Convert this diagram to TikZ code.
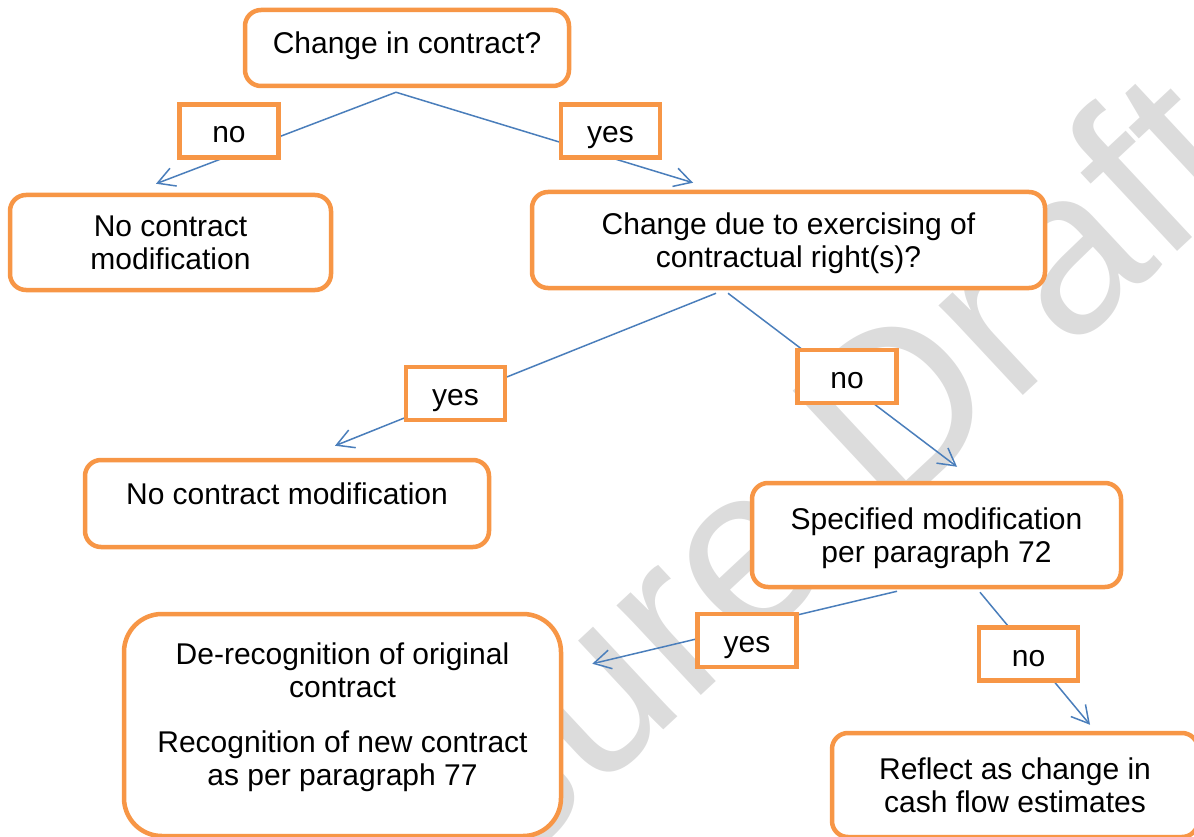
\documentclass[tikz,border=0pt]{standalone}
\usepackage{xcolor}
\usepackage{fontspec}
\setmainfont{Liberation Sans}
\usetikzlibrary{arrows.meta}

\definecolor{boxorange}{HTML}{F79646}
\definecolor{linkblue}{HTML}{4A7EBB}
\definecolor{wmgray}{HTML}{DCDCDC}

\begin{document}
\begin{tikzpicture}[x = 1pt, y = -1pt,
    box/.style = {draw = boxorange, line width = 4.5pt, rounded corners = 16pt, fill = white,
        align = center, inner sep = 0pt, text depth = 0pt,
        font = \fontsize{30}{33}\selectfont},
    answer/.style = {draw = boxorange, line width = 4.5pt, fill = white, inner sep = 0pt,
        minimum width = 99pt, minimum height = 53pt, text height = 24pt, text depth = 0pt,
        font = \fontsize{30}{33}\selectfont},
    link/.style = {draw = linkblue, line width = 1.5pt,
        -{Straight Barb[length = 17pt, width = 19pt]}}]
    \useasboundingbox (0, 0) rectangle (1194, 837);
    \clip (0, 0) rectangle (1194, 837);

    % watermark
    \node[rotate = 43, text = wmgray, font = \fontsize{233}{233}\selectfont] (wm) at (648.5, 662.5) {Exposure Draft};

    % decisions and outcomes
    \node[box, minimum width = 324pt, minimum height = 76pt, text depth = 11pt] (change) at (407, 48) {Change in contract?};
    \node[box, minimum width = 321pt, minimum height = 95pt] (nomod) at (170.5, 242.5) {No contract\\modification};
    \node[box, minimum width = 513pt, minimum height = 96pt] (right) at (788.5, 240) {Change due to exercising of\\contractual right(s)?};
    \node[box, minimum width = 404pt, minimum height = 87pt, text depth = 19.5pt] (nomodb) at (287, 503.5) {No contract modification};
    \node[box, minimum width = 369pt, minimum height = 104pt] (spec) at (936.5, 535) {Specified modification\\per paragraph 72};
    \node[box, minimum width = 437pt, minimum height = 222pt, rounded corners = 38pt, text depth = 21pt] (derec) at (342.5, 725)
        {De-recognition of original\\contract\\[22pt]Recognition of new contract\\as per paragraph 77};
    \node[box, minimum width = 366pt, minimum height = 104pt] (reflect) at (1015, 785) {Reflect as change in\\cash flow estimates};

    % arrows
    \coordinate (fork) at ([xshift = -11pt, yshift = -4pt]change.south);
    \draw[link] (fork) -- ([xshift = -14.5pt, yshift = 9pt]nomod.north);
    \draw[link] (fork) -- ([xshift = -95.5pt, yshift = 7pt]right.north);
    \draw[link] ([xshift = -72.5pt, yshift = -3pt]right.south) -- ([xshift = 48pt, yshift = 12pt]nomodb.north);
    \draw[link] ([xshift = -60.5pt, yshift = -3pt]right.south) -- ([xshift = 20.5pt, yshift = 14pt]spec.north);
    \draw[link] ([xshift = -39.5pt, yshift = -2pt]spec.south) -- ([xshift = 29pt, yshift = -52pt]derec.north east);
    \draw[link] ([xshift = 43.5pt, yshift = -3pt]spec.south) -- ([xshift = 75pt, yshift = 6pt]reflect.north);

    % answers
    \node[answer] (no1) at (229, 131) {no};
    \node[answer] (yes1) at (610.5, 131) {yes};
    \node[answer] (yes2) at (455.5, 393.5) {yes};
    \node[answer] (no2) at (847, 376.5) {no};
    \node[answer] (yes3) at (747, 640.5) {yes};
    \node[answer] (no3) at (1028.5, 654) {no};
\end{tikzpicture}
\end{document}
